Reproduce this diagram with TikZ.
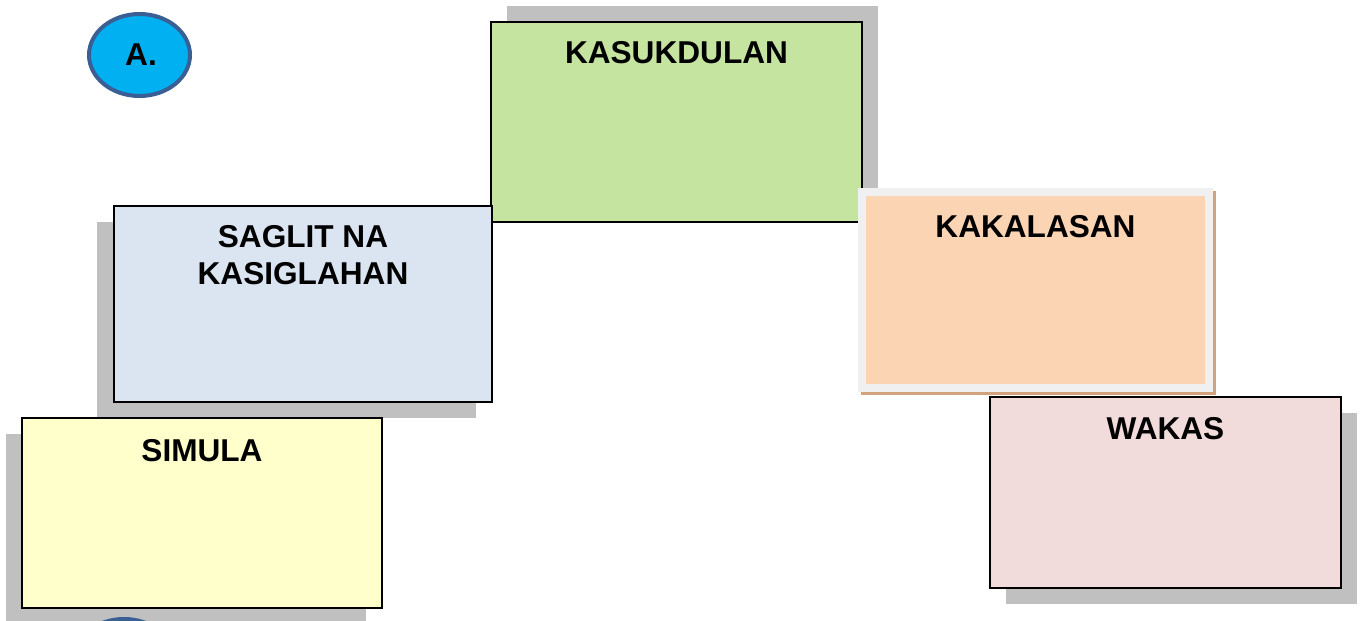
\documentclass[tikz,border=0pt]{standalone}
\usepackage{fontspec}
\setmainfont{Liberation Sans}
\definecolor{shadowgray}{HTML}{C0C0C0}
\definecolor{greenfill}{HTML}{C4E4A0}
\definecolor{bluefill}{HTML}{DBE5F1}
\definecolor{yellowfill}{HTML}{FFFFCC}
\definecolor{pinkfill}{HTML}{F2DCDB}
\definecolor{peachfill}{HTML}{FBD4B4}
\definecolor{peachframe}{HTML}{F0F0F0}
\definecolor{peachshadow}{HTML}{D2A27C}
\definecolor{circfill}{HTML}{00B0F0}
\definecolor{circline}{HTML}{3A5F95}
\begin{document}
\begin{tikzpicture}[x=1pt,y=-1pt,
  box/.style={draw=black,line width=2pt},
  shade/.style={fill=shadowgray},
  title/.style={font=\fontsize{31.6}{37}\selectfont\bfseries,anchor=base,inner sep=0pt},
  badge/.style={fill=circfill,draw=circline,line width=4pt}]
\useasboundingbox (0,0) rectangle (1361,621);
% shadows
\fill[shade] (507,6) rectangle (878,206);
\fill[shade] (97,222) rectangle (476,418);
\fill[shade] (6,434) rectangle (366,621);
\fill[shade] (1006,413) rectangle (1357,604);
% badge circles
\begin{scope}
\clip (0,0) rectangle (1361,621);
\draw[badge] (124,660) ellipse [x radius=50.5, y radius=41];
\end{scope}
\draw[badge] (139.5,55) ellipse [x radius=50.5, y radius=41];
\node[title] (lblA) at (141,65) {A.};
% boxes
\draw[box,fill=greenfill] (491,22) rectangle (862,222);
\coordinate (kasukdulan) at (676.5,122);
\draw[box,fill=bluefill] (114,206) rectangle (492,402);
\coordinate (saglit) at (303,304);
\draw[box,fill=yellowfill] (22,418) rectangle (382,608);
\coordinate (simula) at (202,513);
\fill[peachshadow] (861,191) rectangle (1216,395);
\fill[peachframe] (858,188) rectangle (1213,392);
\fill[peachfill] (866,196) rectangle (1205,384);
\coordinate (kakalasan) at (1035.5,290);
\draw[box,fill=pinkfill] (990,397) rectangle (1341,588);
\coordinate (wakas) at (1165.5,492);
% labels
\node[title] (tKasukdulan) at (676.5,63) {KASUKDULAN};
\node[title] (tSaglit1) at (303,247) {SAGLIT NA};
\node[title] (tSaglit2) at (303,284) {KASIGLAHAN};
\node[title] (tSimula) at (202,461) {SIMULA};
\node[title] (tKakalasan) at (1035.5,237) {KAKALASAN};
\node[title] (tWakas) at (1165.5,439) {WAKAS};
\end{tikzpicture}
\end{document}
